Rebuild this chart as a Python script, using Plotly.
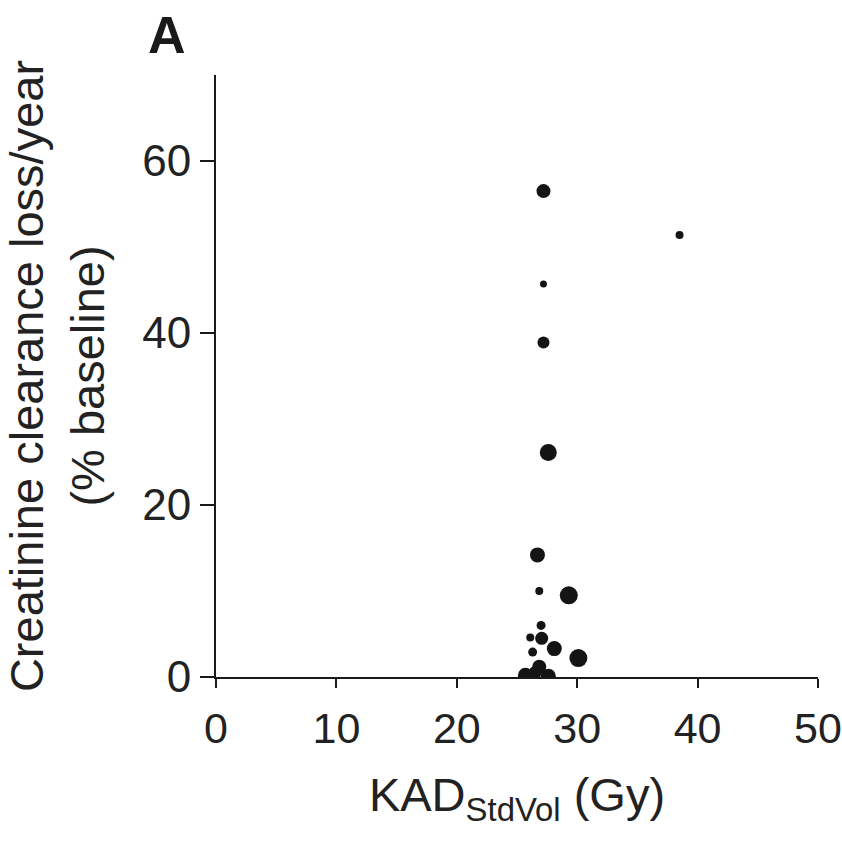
import plotly.graph_objects as go

# KAD (Gy) vs creatinine clearance loss per year (% of baseline)
kad = [27.2, 27.2, 27.2, 27.6, 38.5, 26.7, 26.85, 29.3, 27.0, 26.1, 27.05,
       28.1, 26.3, 30.1, 26.85, 25.7, 27.6, 26.5]
loss = [56.5, 45.7, 38.9, 26.1, 51.4, 14.2, 10.0, 9.5, 6.0, 4.6, 4.5,
        3.3, 2.9, 2.2, 1.2, 0.2, 0.1, 0.5]
dot_size = [14, 7, 12, 17, 8, 15, 8, 18, 9, 8, 13,
            15, 9, 18, 14, 15, 15, 13]

font = "Liberation Sans, Arial, sans-serif"

fig = go.Figure()
fig.add_trace(go.Scatter(
    x=kad, y=loss, mode="markers",
    marker=dict(size=dot_size, color="#141414", opacity=1, line=dict(width=0)),
    showlegend=False,
))

fig.update_xaxes(
    range=[0, 50], tickvals=[0, 10, 20, 30, 40, 50], automargin=False,
    showline=True, linecolor="#1a1a1a", linewidth=2,
    ticks="outside", ticklen=9, tickwidth=1.5, tickcolor="#1a1a1a",
    ticklabelstandoff=3, ticklabeloverflow="allow",
    showgrid=False, zeroline=False,
    tickfont=dict(family=font, size=43, color="#222"),
    title=dict(text="KAD<sub>StdVol</sub> (Gy)", standoff=28,
               font=dict(family=font, size=47, color="#222")),
)
fig.update_yaxes(
    range=[0, 70], tickvals=[0, 20, 40, 60], automargin=False,
    showline=True, linecolor="#1a1a1a", linewidth=2,
    ticks="outside", ticklen=14, tickwidth=1.5, tickcolor="#1a1a1a",
    showgrid=False, zeroline=False,
    tickfont=dict(family=font, size=44, color="#222"),
    title=dict(text="Creatinine clearance loss/year<br>(% baseline)", standoff=30,
               font=dict(family=font, size=47, color="#222")),
)

fig.add_annotation(
    text="<b>A</b>", xref="paper", yref="paper", x=-0.117, y=1.015,
    xanchor="left", yanchor="bottom", showarrow=False,
    font=dict(family=font, size=52, color="#1a1a1a"),
)

fig.update_layout(
    width=842, height=843,
    margin=dict(l=216, r=24, t=75, b=166),
    plot_bgcolor="white", paper_bgcolor="white",
)

fig.write_html("out.html", config={"displayModeBar": False},
               post_script="document.body.style.margin='0';")
